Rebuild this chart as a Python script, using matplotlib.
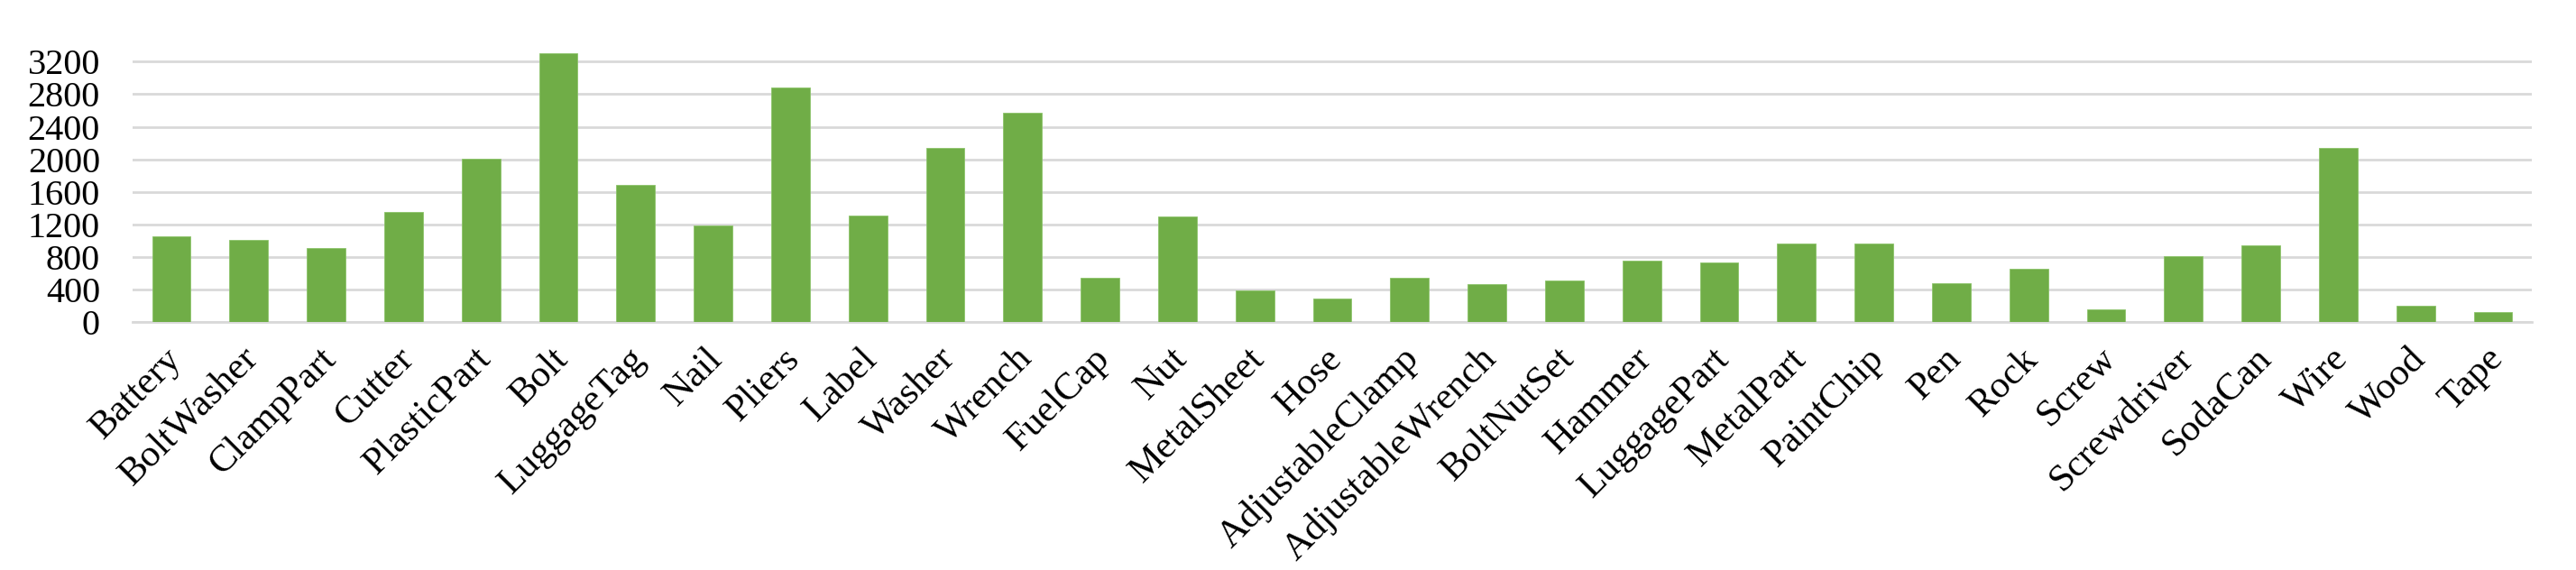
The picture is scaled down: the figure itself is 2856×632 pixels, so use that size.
import matplotlib.pyplot as plt
import matplotlib.transforms as mtransforms
import numpy as np

categories = ['Battery', 'BoltWasher', 'ClampPart', 'Cutter', 'PlasticPart', 'Bolt',
              'LuggageTag', 'Nail', 'Pliers', 'Label', 'Washer', 'Wrench', 'FuelCap',
              'Nut', 'MetalSheet', 'Hose', 'AdjustableClamp', 'AdjustableWrench',
              'BoltNutSet', 'Hammer', 'LuggagePart', 'MetalPart', 'PaintChip', 'Pen',
              'Rock', 'Screw', 'Screwdriver', 'SodaCan', 'Wire', 'Wood', 'Tape']
counts = [1052, 1008, 908, 1351, 2007, 3300, 1686, 1188, 2882, 1310, 2140, 2569, 546,
          1299, 387, 291, 546, 465, 509, 756, 731, 967, 967, 479,
          657, 155, 812, 941, 2137, 199, 125]
yticks = [0, 400, 800, 1200, 1600, 2000, 2400, 2800, 3200]

plt.rcParams['font.family'] = ['Liberation Serif', 'DejaVu Serif']

fig = plt.figure(figsize=(28.56, 6.32), dpi=100)
ax = fig.add_axes([0.0515, 0.4347, 0.9313, 0.4786])

x = np.arange(len(categories))
ax.bar(x, counts, width=0.5, color='#70AD47', edgecolor='#8CC46A', linewidth=0.6, zorder=3)

ax.set_xlim(-0.5, len(categories) - 0.5)
ax.set_ylim(0, 3350)
ax.set_yticks(yticks)
ax.set_yticklabels([str(v) for v in yticks])
ax.yaxis.grid(True, color='#D9D9D9', linewidth=2.0, zorder=0)
ax.set_axisbelow(True)

for s in ['top', 'right', 'left']:
    ax.spines[s].set_visible(False)
ax.spines['bottom'].set_color('#D9D9D9')
ax.spines['bottom'].set_linewidth(2.0)

ax.tick_params(axis='y', length=0, pad=26, labelsize=29)
ax.tick_params(axis='x', length=0, pad=25, labelsize=30.5)
ax.set_xticks(x)
ax.set_xticklabels(categories, rotation=45, ha='right', va='center', rotation_mode='anchor')

# nudge labels a little right, like the original
shift = mtransforms.ScaledTranslation(5 / 100, 0, fig.dpi_scale_trans)
for lab in ax.get_xticklabels():
    lab.set_transform(lab.get_transform() + shift)

fig.savefig('out.png', dpi=100)
